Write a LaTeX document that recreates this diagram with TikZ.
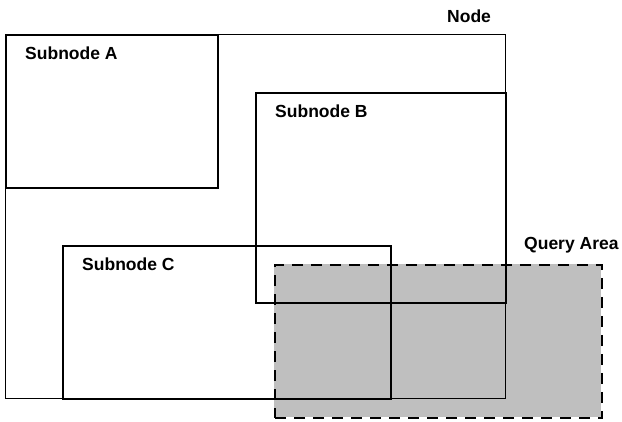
\documentclass[tikz,border=0pt]{standalone}
\usepackage{fontspec}
\setmainfont{Liberation Sans}
\begin{document}
\begin{tikzpicture}[x=1pt,y=-1pt,
  box/.style={draw=black, line width=2pt, fill=none, inner sep=0pt, anchor=north west},
  outer/.style={draw=black, line width=1pt, inner sep=0pt, anchor=north west},
  label/.style={inner sep=0pt, anchor=base west, font=\fontsize{17.5}{20}\selectfont\bfseries},
  query/.style={draw=black, line width=2pt, dash pattern=on 11pt off 8pt, inner sep=0pt, anchor=north west}]
  % canvas
  \useasboundingbox (0,0) rectangle (622,421);
  \fill[white] (0,0) rectangle (622,421);
  % shaded query region (fill only, outline drawn last)
  \fill[fill={rgb,255:red,191;green,191;blue,191}] (274,264) rectangle (601,417);
  % the node and its subnodes
  \node[outer, minimum width=500pt, minimum height=364pt] (node) at (5,34) {};
  \node[box, minimum width=212pt, minimum height=153pt] (subA) at (5,34) {};
  \node[box, minimum width=250pt, minimum height=210pt] (subB) at (255,92) {};
  \node[box, minimum width=328pt, minimum height=153pt] (subC) at (62,245) {};
  % query outline
  \node[query, minimum width=327pt, minimum height=153pt] (qarea) at (274,264) {};
  % labels
  \node[label] (lnode) at (447,22) {Node};
  \node[label] (lA) at (25,59) {Subnode A};
  \node[label] (lB) at (275,117) {Subnode B};
  \node[label] (lC) at (82,270) {Subnode C};
  \node[label] (lQ) at (524,249) {Query Area};
\end{tikzpicture}
\end{document}
